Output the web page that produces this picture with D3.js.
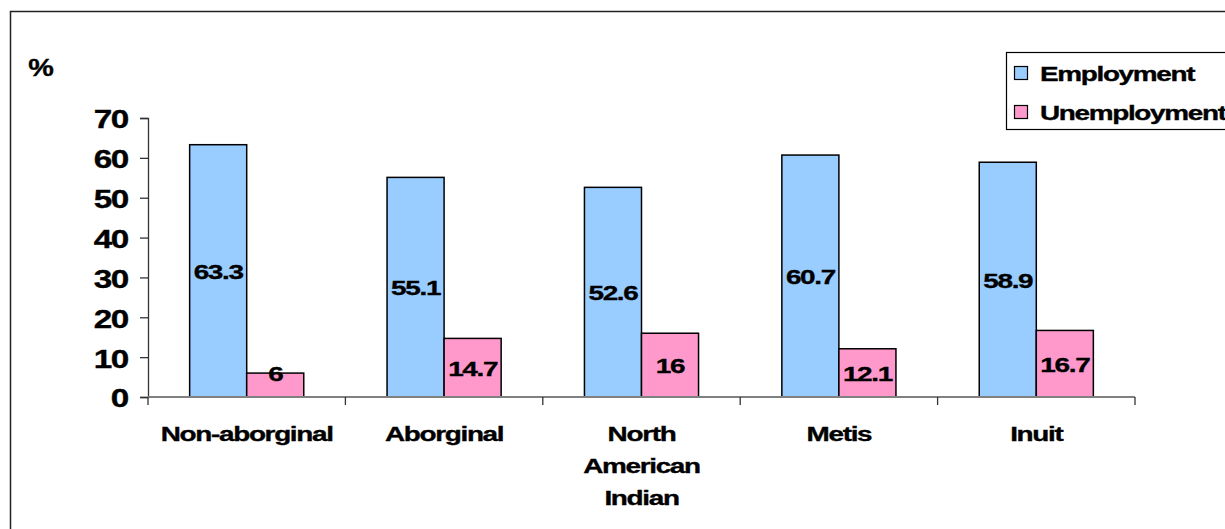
<!DOCTYPE html>
<html>
<head>
<meta charset="utf-8">
<script src="https://cdn.jsdelivr.net/npm/d3@7"></script>
<style>
  html, body { margin: 0; padding: 0; background: #fff; }
  svg { display: block; }
  text { font-family: "Liberation Sans", Arial, sans-serif; font-weight: bold; fill: #000;
         stroke: #000; stroke-width: 0.35px; letter-spacing: -1px; }
</style>
</head>
<body>
<svg id="chart" width="1225" height="529"></svg>
<script>
// Employment and unemployment rates (%) by identity group
const categories = ["Non-aborginal", "Aborginal", "North American Indian", "Metis", "Inuit"];
const seriesNames = ["Employment", "Unemployment"];
const employment = [63.3, 55.1, 52.6, 60.7, 58.9];
const unemployment = [6, 14.7, 16, 12.1, 16.7];
const yTicks = [0, 10, 20, 30, 40, 50, 60, 70];
const yUnit = "%";

const colors = { Employment: "#99CCFF", Unemployment: "#FF99CC" };
const stretch = 1.33; // horizontal widening of lettering

const svg = d3.select("#chart");
const plot = { left: 148, right: 1135, top: 118, bottom: 397 };

// outer frame
svg.append("rect")
  .attr("x", 10.5).attr("y", 11.5)
  .attr("width", 1300).attr("height", 600)
  .attr("fill", "#fff").attr("stroke", "#222").attr("stroke-width", 1.5);

const x = d3.scaleBand().domain(categories).range([plot.left, plot.right]).padding(0);
const xs = d3.scaleBand().domain(seriesNames).range([0, x.bandwidth()])
  .paddingInner(0).paddingOuter(0.73);
const y = d3.scaleLinear().domain([0, 70]).range([plot.bottom, plot.top]);

const rows = categories.map((c, i) => ({
  cat: c,
  values: [
    { key: "Employment", value: employment[i] },
    { key: "Unemployment", value: unemployment[i] }
  ]
}));

// y axis
const yAxis = svg.append("g")
  .attr("transform", `translate(${plot.left},0)`)
  .call(d3.axisLeft(y).tickValues(yTicks).tickSize(8).tickPadding(12).tickFormat(d3.format("d")));
yAxis.select(".domain").attr("stroke", "#333").attr("stroke-width", 1.3);
yAxis.selectAll(".tick line").attr("stroke", "#333").attr("stroke-width", 1.3);
yAxis.selectAll(".tick text")
  .attr("x", null).attr("dy", null)
  .attr("dominant-baseline", "central")
  .attr("transform", `translate(-20,1) scale(${stretch},1)`)
  .style("font-size", "25px");

// bars
const groups = svg.append("g").selectAll("g")
  .data(rows).join("g")
  .attr("transform", d => `translate(${x(d.cat)},0)`);

groups.selectAll("rect")
  .data(d => d.values).join("rect")
  .attr("x", d => xs(d.key))
  .attr("y", d => y(d.value))
  .attr("width", xs.bandwidth())
  .attr("height", d => y(0) - y(d.value))
  .attr("fill", d => colors[d.key])
  .attr("stroke", "#000").attr("stroke-width", 1.5);

// value labels, centred in each bar (raised to the bar top when the bar is short)
groups.selectAll("text.val")
  .data(d => d.values).join("text")
  .attr("class", "val")
  .attr("text-anchor", "middle")
  .attr("dominant-baseline", "central")
  .style("font-size", "21px")
  .attr("transform", d => {
    const top = y(d.value), mid = (y(d.value) + y(0)) / 2;
    const ly = (y(0) - top) < 30 ? top : mid;
    return `translate(${xs(d.key) + xs.bandwidth() / 2},${ly + 1}) scale(${stretch},1)`;
  })
  .text(d => d.value);

// x axis line and category-boundary ticks
const xAxis = svg.append("g");
xAxis.append("line")
  .attr("x1", plot.left).attr("x2", plot.right)
  .attr("y1", y(0)).attr("y2", y(0))
  .attr("stroke", "#808080").attr("stroke-width", 2);
const bounds = categories.map(c => x(c)).concat([x.range()[1]]);
xAxis.selectAll("line.tick")
  .data(bounds).join("line")
  .attr("class", "tick")
  .attr("x1", d => d).attr("x2", d => d)
  .attr("y1", y(0)).attr("y2", y(0) + 8)
  .attr("stroke", "#333").attr("stroke-width", 1.3);

// category labels (multi-word names wrap one word per line)
const catLabels = svg.append("g").selectAll("text")
  .data(categories).join("text")
  .attr("text-anchor", "middle")
  .style("font-size", "21px")
  .attr("transform", d => `translate(${x(d) + x.bandwidth() / 2},441) scale(${stretch},1)`);
catLabels.each(function(d) {
  const words = d.includes(" ") ? d.split(" ") : [d];
  const t = d3.select(this);
  words.forEach((w, i) => t.append("tspan").attr("x", 0).attr("y", i * 32).text(w));
});

// unit label
svg.append("text")
  .attr("transform", `translate(41,76) scale(1.2,1)`)
  .attr("text-anchor", "middle")
  .style("font-size", "24px")
  .style("letter-spacing", "0px")
  .text(yUnit);

// legend
const legend = svg.append("g");
legend.append("rect")
  .attr("x", 1006.5).attr("y", 52.5).attr("width", 300).attr("height", 77)
  .attr("fill", "#fff").attr("stroke", "#000").attr("stroke-width", 1.2);
const li = legend.selectAll("g.item")
  .data(seriesNames).join("g")
  .attr("class", "item")
  .attr("transform", (d, i) => `translate(1014,${73 + i * 39})`);
li.append("rect")
  .attr("x", 0.5).attr("y", -6.5).attr("width", 13).attr("height", 13)
  .attr("fill", d => colors[d]).attr("stroke", "#000").attr("stroke-width", 1.2);
li.append("text")
  .attr("dominant-baseline", "central")
  .style("font-size", "21px")
  .attr("transform", `translate(26,1) scale(${stretch},1)`)
  .text(d => d);
</script>
</body>
</html>
